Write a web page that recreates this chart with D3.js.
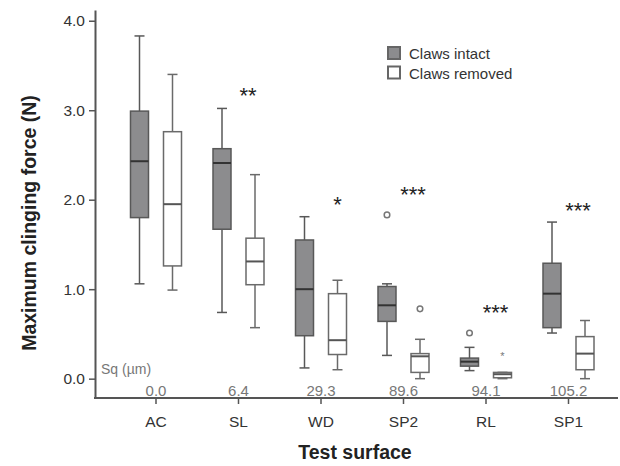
<!DOCTYPE html>
<html>
<head>
<meta charset="utf-8">
<script src="https://cdn.jsdelivr.net/npm/d3@7"></script>
<style>
  body { margin: 0; background: #fff; }
  text { font-family: "Liberation Sans", Arial, sans-serif; }
</style>
</head>
<body>
<svg id="chart" width="620" height="466"></svg>
<script>
// Box plot of clinging force with and without claws, per test surface

const surfaces = ["AC", "SL", "WD", "SP2", "RL", "SP1"];
const roughness = ["0.0", "6.4", "29.3", "89.6", "94.1", "105.2"];

// [lowWhisker, q1, median, q3, highWhisker]
const intactStats = [
  [1.06, 1.80, 2.43, 2.99, 3.83],
  [0.74, 1.67, 2.41, 2.57, 3.02],
  [0.12, 0.48, 1.00, 1.55, 1.81],
  [0.26, 0.64, 0.82, 1.03, 1.06],
  [0.09, 0.14, 0.19, 0.23, 0.35],
  [0.51, 0.57, 0.95, 1.29, 1.75],
];
const removedStats = [
  [0.99, 1.26, 1.95, 2.76, 3.40],
  [0.57, 1.05, 1.31, 1.57, 2.28],
  [0.10, 0.27, 0.43, 0.95, 1.10],
  [0.00, 0.07, 0.25, 0.28, 0.44],
  [0.00, 0.01, 0.05, 0.07, 0.07],
  [0.00, 0.10, 0.28, 0.47, 0.65],
];

// outliers: [surface, value]
const intactOutliers = [["SP2", 1.83], ["RL", 0.51]];
const removedOutliers = [["SP2", 0.78]];
const removedExtremes = [["RL", 0.27]];

const sigSurfaces = ["SL", "WD", "SP2", "RL", "SP1"];
const sigLabels = ["**", "*", "***", "***", "***"];
const sigHeights = [3.20, 1.99, 2.10, 0.78, 1.92];

const yTicks = [0, 1, 2, 3, 4];

const CONFIG = {
  boxWidth: 18,
  offset: 16.5,
  intactFill: "#8c8c8e",
  darkStroke: "#585858",
  lightStroke: "#6a6a6a",
  axisColor: "#555",
  sqColor: "#777",
};

const svg = d3.select("#chart");

const y = d3.scaleLinear().domain([-0.216, 4.12]).range([398, 10]);
const x = d3.scalePoint().domain(surfaces).range([156, 568.5]);

// Axes
const yAxis = svg.append("g")
  .attr("transform", "translate(95,0)")
  .call(d3.axisLeft(y).tickValues(yTicks).tickFormat(d3.format(".1f")).tickSize(6).tickPadding(4).tickSizeOuter(0));
yAxis.select(".domain").attr("stroke", CONFIG.axisColor).attr("stroke-width", 2);
yAxis.selectAll(".tick line").attr("stroke", CONFIG.axisColor).attr("stroke-width", 1.5);
yAxis.selectAll(".tick text").attr("fill", "#333").style("font-size", "15.5px");

const xAxis = svg.append("g")
  .attr("transform", "translate(0,398)");
xAxis.append("line")
  .attr("x1", 94).attr("x2", 618)
  .attr("stroke", CONFIG.axisColor).attr("stroke-width", 2);
xAxis.selectAll(".xtick")
  .data(surfaces)
  .enter()
  .append("line")
  .attr("x1", d => x(d)).attr("x2", d => x(d))
  .attr("y1", 0).attr("y2", 6)
  .attr("stroke", CONFIG.axisColor).attr("stroke-width", 1.5);
xAxis.selectAll(".xlabel")
  .data(surfaces)
  .enter()
  .append("text")
  .attr("x", d => x(d))
  .attr("y", 29)
  .attr("text-anchor", "middle")
  .attr("fill", "#333")
  .style("font-size", "15.5px")
  .text(d => d);

// Axis titles
svg.append("text")
  .attr("transform", "translate(36,223) rotate(-90)")
  .attr("text-anchor", "middle")
  .style("font-size", "19.5px")
  .style("font-weight", "bold")
  .attr("fill", "#222")
  .text("Maximum clinging force (N)");

svg.append("text")
  .attr("x", 355).attr("y", 459)
  .attr("text-anchor", "middle")
  .style("font-size", "19.5px")
  .style("font-weight", "bold")
  .attr("fill", "#222")
  .text("Test surface");

// Roughness labels
svg.append("text")
  .attr("x", 101).attr("y", 374)
  .attr("fill", CONFIG.sqColor)
  .style("font-size", "14px")
  .text("Sq (µm)");

svg.selectAll(".sq")
  .data(surfaces)
  .enter()
  .append("text")
  .attr("x", d => x(d))
  .attr("y", 396)
  .attr("text-anchor", "middle")
  .attr("fill", CONFIG.sqColor)
  .style("font-size", "15px")
  .text((d, i) => roughness[i]);

/**
 * Draw a group of boxes with whiskers.
 */
function drawBoxes(stats, dx, fill, stroke, medianColor) {
  const g = svg.append("g");
  const w = CONFIG.boxWidth;
  const cap = 10;
  stats.forEach((s, i) => {
    const cx = x(surfaces[i]) + dx;
    const [lo, q1, med, q3, hi] = s;
    // whiskers
    g.append("line")
      .attr("x1", cx).attr("x2", cx)
      .attr("y1", y(hi)).attr("y2", y(q3))
      .attr("stroke", stroke).attr("stroke-width", 1.5);
    g.append("line")
      .attr("x1", cx).attr("x2", cx)
      .attr("y1", y(q1)).attr("y2", y(lo))
      .attr("stroke", stroke).attr("stroke-width", 1.5);
    [hi, lo].forEach(v => {
      g.append("line")
        .attr("x1", cx - cap / 2).attr("x2", cx + cap / 2)
        .attr("y1", y(v)).attr("y2", y(v))
        .attr("stroke", stroke).attr("stroke-width", 1.5);
    });
    // box
    g.append("rect")
      .attr("x", cx - w / 2)
      .attr("y", y(q3))
      .attr("width", w)
      .attr("height", Math.max(1, y(q1) - y(q3)))
      .attr("fill", fill)
      .attr("stroke", stroke)
      .attr("stroke-width", 1.5);
    // median
    g.append("line")
      .attr("x1", cx - w / 2).attr("x2", cx + w / 2)
      .attr("y1", y(med)).attr("y2", y(med))
      .attr("stroke", medianColor).attr("stroke-width", 2);
  });
}

drawBoxes(intactStats, -CONFIG.offset, CONFIG.intactFill, CONFIG.darkStroke, "#333");
drawBoxes(removedStats, CONFIG.offset, "#fff", CONFIG.lightStroke, "#555");

// Outliers
svg.selectAll(".out-intact")
  .data(intactOutliers)
  .enter()
  .append("circle")
  .attr("cx", d => x(d[0]) - CONFIG.offset)
  .attr("cy", d => y(d[1]))
  .attr("r", 2.8)
  .attr("fill", "#fff")
  .attr("stroke", "#777")
  .attr("stroke-width", 1.5);

svg.selectAll(".out-removed")
  .data(removedOutliers)
  .enter()
  .append("circle")
  .attr("cx", d => x(d[0]) + CONFIG.offset)
  .attr("cy", d => y(d[1]))
  .attr("r", 2.8)
  .attr("fill", "#fff")
  .attr("stroke", "#777")
  .attr("stroke-width", 1.5);

svg.selectAll(".ext-removed")
  .data(removedExtremes)
  .enter()
  .append("text")
  .attr("x", d => x(d[0]) + CONFIG.offset)
  .attr("y", d => y(d[1]) + 5)
  .attr("text-anchor", "middle")
  .attr("fill", "#777")
  .style("font-size", "11px")
  .text("*");

// Significance stars
svg.selectAll(".sig")
  .data(sigSurfaces)
  .enter()
  .append("text")
  .attr("x", (d, i) => x(d) + CONFIG.offset - (sigLabels[i].length > 1 ? 7 : 0))
  .attr("y", (d, i) => y(sigHeights[i]) + 11)
  .attr("text-anchor", "middle")
  .attr("fill", "#222")
  .style("font-size", "22px")
  .text((d, i) => sigLabels[i]);

// Legend
const legendItems = [
  { label: "Claws intact", fill: CONFIG.intactFill },
  { label: "Claws removed", fill: "#fff" },
];
const legend = svg.append("g").attr("transform", "translate(388,47)");
legendItems.forEach((item, i) => {
  legend.append("rect")
    .attr("x", 0).attr("y", i * 19.5)
    .attr("width", 12).attr("height", 12)
    .attr("fill", item.fill)
    .attr("stroke", "#666")
    .attr("stroke-width", 2);
  legend.append("text")
    .attr("x", 21).attr("y", i * 19.5 + 12)
    .attr("fill", "#333")
    .style("font-size", "15px")
    .text(item.label);
});
</script>
</body>
</html>
